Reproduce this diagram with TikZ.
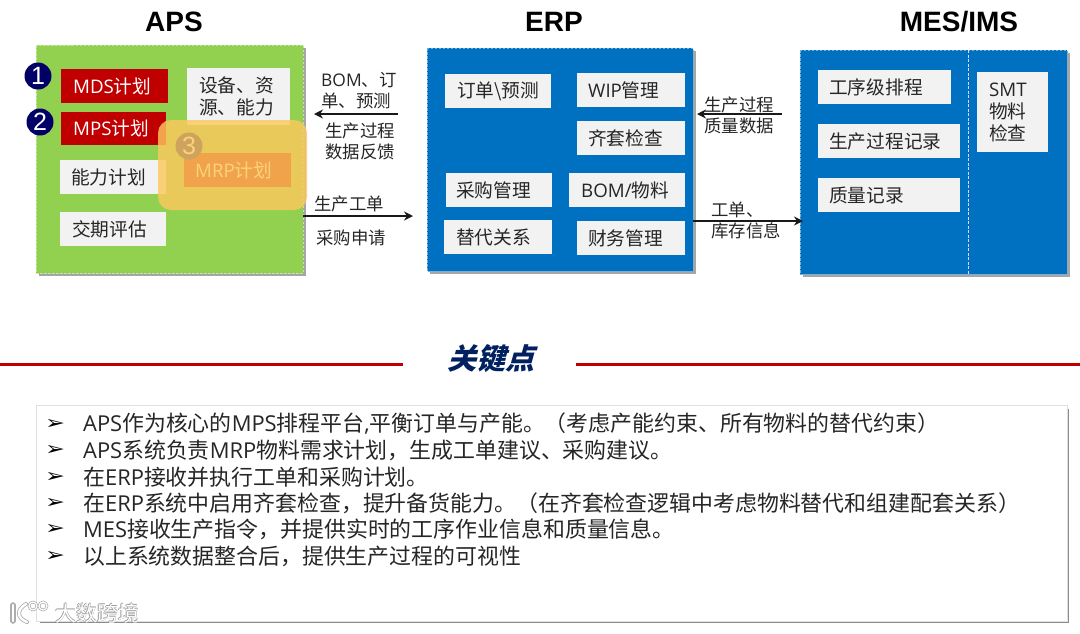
\documentclass[tikz,border=0pt]{standalone}
\usepackage{fontspec}
\setmainfont{Noto Sans CJK SC}
\newfontfamily\titlef{Liberation Sans}
\newfontfamily\symf{DejaVu Sans}
\newfontfamily\latf{Open Sans}
\newcommand{\la}[1]{{\latf #1}}
\newcommand{\arw}{\scalebox{1.25}[1]{➢}}
\newfontfamily\keyf{Noto Sans CJK SC}[BoldFeatures={FakeSlant=0.28}]
\usetikzlibrary{arrows.meta}
\definecolor{txt}{RGB}{38,38,38}
\definecolor{apsg}{RGB}{146,208,80}
\definecolor{blu}{RGB}{0,112,192}
\definecolor{redb}{RGB}{192,0,0}
\definecolor{boxg}{RGB}{242,242,242}
\definecolor{navy}{RGB}{0,0,102}
\definecolor{over}{RGB}{251,200,92}
\definecolor{keyb}{RGB}{0,32,96}
\definecolor{linered}{RGB}{192,0,0}
\tikzset{
 x=1pt,y=-1pt,
 panel/.style={anchor=north west,inner sep=0},
 shad/.style={fill=black!35,draw=none},
 wbox/.style={fill=boxg,text=txt,anchor=north west,inner ysep=0,align=left,font=\fontsize{18.7}{22}\selectfont},
 rbox/.style={wbox,fill=redb,text=white},
 lab/.style={anchor=west,inner sep=0,text=txt,align=left,font=\fontsize{17.4}{21}\selectfont},
 ttl/.style={inner sep=0,text=black,font=\titlef\bfseries\fontsize{28}{30}\selectfont},
 num/.style={circle,fill=navy,text=white,minimum size=27pt,inner sep=0,font=\titlef\fontsize{25}{26}\selectfont},
 conn/.style={-{Stealth[length=9pt,width=9pt]},line width=1.4pt,black!90},
 bul/.style={anchor=center,inner sep=0,text=black,font=\symf\fontsize{19}{20}\selectfont},
 item/.style={anchor=west,inner sep=0,text=txt,font=\fontsize{21.9}{26}\selectfont},
 wmshade/.style={anchor=west,inner sep=0,text=black!38,font=\fontsize{21}{24}\selectfont},
}
% name, x0,y0,x1,y1, text offset, style, text
\newcommand{\bx}[8]{%
 \pgfmathsetmacro{\bw}{#4-#2}\pgfmathsetmacro{\bh}{#5-#3}\pgfmathsetmacro{\bt}{#4-#2-2*#6}%
 \node[#7,inner xsep=#6pt,minimum width=\bw pt,minimum height=\bh pt,text width=\bt pt] (#1) at (#2,#3) {#8};}
\newcommand{\pnl}[6]{%
 \pgfmathsetmacro{\bw}{#4-#2}\pgfmathsetmacro{\bh}{#5-#3}%
 \fill[shad] (#2+2.5,#3+3) rectangle (#4+2.5,#5+3);
 \node[panel,fill=#6,minimum width=\bw pt,minimum height=\bh pt] (#1) at (#2,#3) {};
 \draw[#6!55!white,line width=0.7pt,dash pattern=on 2.5pt off 1.5pt] (#2,#3) rectangle (#4,#5);}
\begin{document}
\begin{tikzpicture}
\useasboundingbox (0,0) rectangle (1080,633);
\fill[white] (0,0) rectangle (1080,633);
% titles
\node[ttl] (tA) at (174,22) {APS};
\node[ttl] (tE) at (554,22) {ERP};
\node[ttl] (tM) at (959,22) {MES/IMS};
% panels
\pnl{aps}{36}{45}{303}{273}{apsg}
\pnl{erp}{427}{48}{693}{271}{blu}
\pnl{mes}{800}{50}{1067}{274}{blu}
\draw[white!85!blue,line width=0.8pt,dash pattern=on 3pt off 1.5pt] (968,50) -- (968,274);
% APS boxes
\bx{mds}{61}{69}{168}{103}{12}{rbox}{\la{MDS}计划}
\bx{mps}{61}{112}{166}{145}{12}{rbox}{\la{MPS}计划}
\bx{cap}{60}{160}{166}{194}{11}{wbox}{能力计划}
\bx{due}{60}{212}{166}{246}{12}{wbox}{交期评估}
\bx{res}{187}{68}{290}{125}{12}{wbox}{设备、资\\源、能力}
\bx{mrp}{184}{153}{291}{187}{11}{rbox}{\la{MRP}计划}
\node[num] (n1) at (38,76) {1};
\node[num] (n2) at (40,122) {2};
\node[num] (n3) at (189,146) {3};
\fill[over,opacity=0.82,rounded corners=13pt] (158,120) rectangle (307,210);
% ERP boxes
\bx{ord}{445}{74}{551}{108}{12}{wbox}{订单\textbackslash 预测}
\bx{wip}{577}{73}{685}{107}{11}{wbox}{\la{WIP}管理}
\bx{kit}{577}{121}{685}{155}{11}{wbox}{齐套检查}
\bx{pur}{446}{173}{552}{207}{10}{wbox}{采购管理}
\bx{bom}{569}{173}{685}{207}{12}{wbox}{\la{BOM/}物料}
\bx{sub}{444}{220}{552}{254}{12}{wbox}{替代关系}
\bx{fin}{577}{221}{685}{255}{11}{wbox}{财务管理}
% MES boxes
\bx{seq}{818}{70}{951}{104}{11}{wbox}{工序级排程}
\bx{rec}{818}{124}{960}{158}{11}{wbox}{生产过程记录}
\bx{qua}{818}{178}{960}{212}{11}{wbox}{质量记录}
\bx{smt}{977}{72}{1048}{152}{12}{wbox}{\la{SMT}\\物料\\检查}
% connector labels
\node[lab] (l1) at (321,91) {\la{BOM}、订\\单、预测};
\node[lab] (l2) at (325,141) {生产过程\\数据反馈};
\node[lab] (l3) at (314,204) {生产工单};
\node[lab] (l4) at (316,238) {采购申请};
\node[lab] (l5) at (704,115) {生产过程\\质量数据};
\node[lab] (l6) at (711,220) {工单、\\库存信息};
% connectors
\coordinate (c1) at (398,114); \coordinate (c2) at (314,114);
\coordinate (c3) at (303,216); \coordinate (c4) at (413,216);
\coordinate (c5) at (782,114); \coordinate (c6) at (697,114);
\coordinate (c7) at (693,221); \coordinate (c8) at (803,221);
\draw[conn] (c1) -- (c2);
\draw[conn] (c3) -- (c4);
\draw[conn] (c5) -- (c6);
\draw[conn] (c7) -- (c8);
% key heading
\coordinate (r1) at (0,364); \coordinate (r2) at (403,364);
\coordinate (r3) at (576,364); \coordinate (r4) at (1080,364);
\draw[linered,line width=3pt] (r1) -- (r2);
\draw[linered,line width=3pt] (r3) -- (r4);
\node[inner sep=0,text=keyb,font=\keyf\bfseries\fontsize{29}{30}\selectfont] (key) at (491,359) {关键点};
% bottom panel
\fill[black!45] (40,409) rectangle (1069,623);
\node[fill=white,draw=black!12,line width=0.6pt,anchor=north west,inner sep=0,minimum width=1031pt,minimum height=216pt] (pan) at (36,405) {};
% items
\node[bul] (b1) at (55,424) {\arw}; \node[item] (i1) at (83,424) {\la{APS}作为核心的\la{MPS}排程平台\la{,}平衡订单与产能。（考虑产能约束、所有物料的替代约束）};
\node[bul] (b2) at (55,450) {\arw}; \node[item] (i2) at (83,450) {\la{APS}系统负责\la{MRP}物料需求计划，生成工单建议、采购建议。};
\node[bul] (b3) at (55,477) {\arw}; \node[item] (i3) at (83,477) {在\la{ERP}接收并执行工单和采购计划。};
\node[bul] (b4) at (55,503) {\arw}; \node[item] (i4) at (83,503) {在\la{ERP}系统中启用齐套检查，提升备货能力。（在齐套检查逻辑中考虑物料替代和组建配套关系）};
\node[bul] (b5) at (55,529) {\arw}; \node[item] (i5) at (83,529) {\la{MES}接收生产指令，并提供实时的工序作业信息和质量信息。};
\node[bul] (b6) at (55,556) {\arw}; \node[item] (i6) at (83,556) {以上系统数据整合后，提供生产过程的可视性};
% watermark
\foreach \dx/\dy [count=\k] in {-0.8/0,0.8/0,0/-0.8,0/0.8}{
 \node[wmshade] (ws\k) at (55+\dx,613+\dy) {大数跨境};
 \draw[black!32,line width=4pt,line cap=round] (13+\dx,605+\dy) -- (13+\dx,621+\dy);
}
\node[anchor=west,inner sep=0,text=white,font=\fontsize{21}{24}\selectfont] (wm) at (55,613) {大数跨境};
\draw[black!32,line width=4pt,line cap=round] (26,604) .. controls (16,610) and (17,618) .. (27,622);
\draw[black!32,line width=2.6pt] (33,606) circle (4);
\draw[black!32,line width=2.6pt] (43,606) circle (4);
\draw[white,line width=2.4pt,line cap=round] (13,605) -- (13,621);
\draw[white,line width=2.4pt,line cap=round] (26,604) .. controls (16,610) and (17,618) .. (27,622);
\draw[white,line width=1.2pt] (33,606) circle (4);
\draw[white,line width=1.2pt] (43,606) circle (4);
\end{tikzpicture}
\end{document}
